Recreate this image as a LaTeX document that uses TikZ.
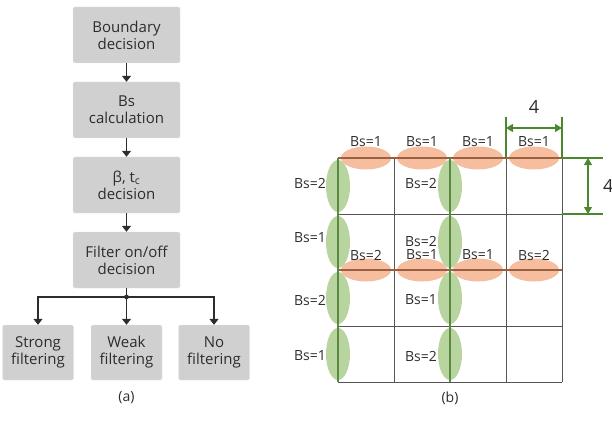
\documentclass[tikz,border=0pt]{standalone}
\usepackage{fontspec}
\setmainfont{Open Sans}
\usetikzlibrary{arrows.meta}
\usetikzlibrary{positioning}
\definecolor{boxgray}{RGB}{208,208,208}
\definecolor{txtgray}{RGB}{45,45,45}
\definecolor{gridgray}{RGB}{85,85,85}
\definecolor{bsorange}{RGB}{246,190,158}
\definecolor{bsgreen}{RGB}{184,213,160}
\definecolor{edgebrown}{RGB}{155,95,65}
\definecolor{edgegreen}{RGB}{90,138,65}
\definecolor{dimgreen}{RGB}{75,135,45}
\tikzset{stage/.style = {fill = boxgray, draw = gray!20, rounded corners = 1.5, minimum width = 107, minimum height = 56, align = center, inner sep = 0, text = txtgray, font = \fontsize{15}{17}\selectfont}}
\tikzset{leaf/.style = {stage, minimum width = 71, minimum height = 55}}
\tikzset{flow/.style = {draw = txtgray, line width = 1.4, -{Triangle[width = 9, length = 6]}}}
\tikzset{bs/.style = {inner sep = 0, text = txtgray, font = \fontsize{14}{13}\selectfont}}
\tikzset{caption/.style = {inner sep = 0, text = txtgray, font = \fontsize{14}{14}\selectfont}}
\tikzset{hedge/.style = {fill = bsorange, draw = none}}
\tikzset{vedge/.style = {fill = bsgreen, draw = none}}
\tikzset{dimline/.style = {draw = dimgreen, line width = 1.1}}

\begin{document}
\begin{tikzpicture}[x = 1pt, y = -1pt]
    \useasboundingbox (0, 0) rectangle (612, 422);

    % (a) flow chart
    \node [stage] (bd) at (126.5, 35) {Boundary\\decision};
    \node [stage] (bs) at (126.5, 110) {Bs\\calculation};
    \node [stage] (bt) at (126.5, 185) {β, t\textsubscript{c}\\decision};
    \node [stage] (fo) at (126.5, 260) {Filter on/off\\decision};
    \node [leaf] (sf) at (38, 352.5) {Strong\\filtering};
    \node [leaf] (wf) at (126.5, 352.5) {Weak\\filtering};
    \node [leaf] (nf) at (214, 352.5) {No\\filtering};
    \coordinate (split) at (126.5, 297);
    \node [caption] (capa) at (126.5, 398) {(a)};

    \draw [flow] (bd) -- (bs);
    \draw [flow] (bs) -- (bt);
    \draw [flow] (bt) -- (fo);
    \draw [draw = txtgray, line width = 1.4] (fo) -- (split);
    \draw [flow] (split) -| (sf);
    \draw [flow] (split) -- (wf);
    \draw [flow] (split) -| (nf);
    \fill [txtgray] (split) circle (2.4);

    % (b) boundary strength grid
    \foreach \i in {0, ..., 3} {
        \fill [hedge] (366 + 56 * \i, 158) ellipse (25 and 11.5);
        \fill [hedge] (366 + 56 * \i, 270) ellipse (25 and 11.5);
    }
    \foreach \j in {0, ..., 3} {
        \fill [vedge] (338, 186 + 56 * \j) ellipse (12 and 26);
        \fill [vedge] (450, 186 + 56 * \j) ellipse (12 and 26);
    }
    \foreach \k in {0, ..., 4} {
        \draw [gridgray, line width = 1] (338 + 56 * \k, 158) -- (338 + 56 * \k, 382);
        \draw [gridgray, line width = 1] (338, 158 + 56 * \k) -- (562, 158 + 56 * \k);
    }
    \draw [edgebrown, line width = 1.1] (338, 158) -- (562, 158);
    \draw [edgebrown, line width = 1.1] (338, 270) -- (562, 270);
    \draw [edgegreen, line width = 1.1] (338, 158) -- (338, 382);
    \draw [edgegreen, line width = 1.1] (450, 158) -- (450, 382);

    % labels on horizontal edges
    \node [bs] (t1) at (366, 142) {Bs=1};
    \node [bs] (t2) at (422, 142) {Bs=1};
    \node [bs] (t3) at (478, 142) {Bs=1};
    \node [bs] (t4) at (534, 142) {Bs=1};
    \node [bs] (m1) at (366, 255) {Bs=2};
    \node [bs] (m2) at (422, 255) {Bs=1};
    \node [bs] (m3) at (478, 255) {Bs=1};
    \node [bs] (m4) at (534, 255) {Bs=2};

    % labels on vertical edges
    \node [bs, anchor = east] (l1) at (326, 183) {Bs=2};
    \node [bs, anchor = east] (l2) at (326, 238) {Bs=1};
    \node [bs, anchor = east] (l3) at (326, 300) {Bs=2};
    \node [bs, anchor = east] (l4) at (326, 356) {Bs=1};
    \node [bs, anchor = east] (c1) at (437, 183) {Bs=2};
    \node [bs, anchor = east] (c2) at (437, 241) {Bs=2};
    \node [bs, anchor = east] (c3) at (437, 300) {Bs=1};
    \node [bs, anchor = east] (c4) at (437, 356) {Bs=2};

    % block size
    \coordinate (wl) at (506, 117);
    \coordinate (wr) at (562, 117);
    \coordinate (ht) at (603, 158);
    \coordinate (hb) at (603, 214);
    \draw [dimline] (wl) -- (506, 158);
    \draw [dimline] (wr) -- (562, 158);
    \draw [dimline] (ht) -- (562, 158);
    \draw [dimline] (hb) -- (562, 214);
    \draw [dimline, {Triangle[width = 8, length = 7]}-{Triangle[width = 8, length = 7]}] (506, 128) -- (562, 128);
    \draw [dimline, {Triangle[width = 8, length = 7]}-{Triangle[width = 8, length = 7]}] (588, 158) -- (588, 214);
    \node [caption, font = \fontsize{18}{18}\selectfont] (wd) at (534, 107) {4};
    \node [caption, font = \fontsize{18}{18}\selectfont, anchor = west] (hd) at (603, 186) {4};

    \node [caption] (capb) at (450, 398) {(b)};
  \end{tikzpicture}
\end{document}
